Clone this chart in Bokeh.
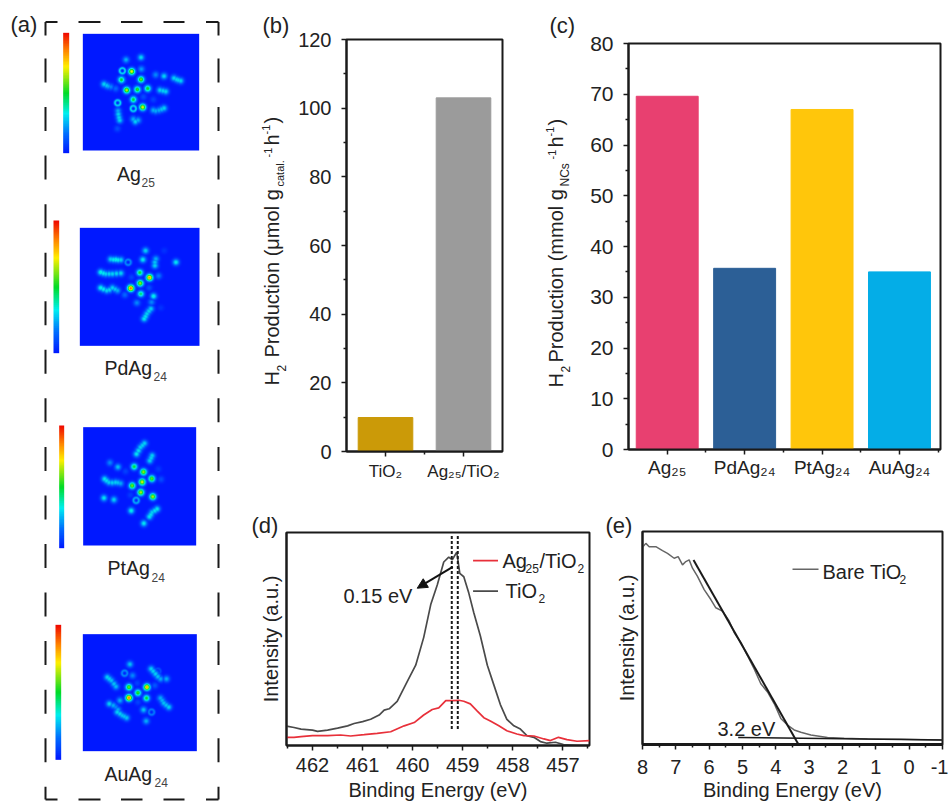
import math
import numpy as np
from bokeh.plotting import figure
from bokeh.layouts import row, column
from bokeh.models import Range1d, FixedTicker, Label, Arrow, NormalHead, LinearColorMapper
from bokeh.embed import file_html
from bokeh.resources import INLINE

FONT = "Liberation Sans"
INK = "#222222"

# ---------- data ----------
b_cats = ["TiO₂", "Ag₂₅/TiO₂"]
b_vals = [9.9, 103.0]
b_cols = ["#CB9A08", "#9B9B9B"]

c_cats = ["Ag₂₅", "PdAg₂₄", "PtAg₂₄", "AuAg₂₄"]
c_vals = [69.6, 35.7, 67.0, 35.0]
c_cols = ["#E84070", "#2C5F96", "#FFC60B", "#04ADE7"]

d_tio2_x = [462.52,462.37,462.23,462.00,461.90,461.70,461.50,461.30,461.17,461.00,460.84,460.67,460.57,460.47,460.31,460.11,459.94,459.78,459.64,459.51,459.38,459.28,459.21,459.12,459.06,458.98,458.88,458.78,458.65,458.51,458.38,458.25,458.12,457.98,457.85,457.72,457.58,457.45,457.32,457.15,456.99,456.72,456.47]
d_tio2_y = [59,55,50,47,43,47,53,60,67,73,80,93,108,112,135,195,245,330,430,490,560,575,567,590,525,515,465,405,335,245,185,125,80,60,50,30,25,12,7,10,3,0,0]
d_ag_x = [462.52,462.37,462.23,462.00,461.70,461.44,461.24,460.97,460.71,460.44,460.17,459.97,459.78,459.61,459.48,459.34,459.21,459.08,458.98,458.85,458.71,458.58,458.45,458.28,458.12,457.92,457.78,457.58,457.38,457.25,457.09,456.92,456.72,456.47]
d_ag_y = [25,25,27,30,30,32,29,33,37,42,60,70,93,110,115,137,137,138,135,127,105,85,75,60,45,35,30,29,20,15,25,18,13,15]
d_marks = [459.22, 459.10]

e_x = [8.00,7.90,7.80,7.60,7.40,7.25,7.05,6.93,6.80,6.70,6.60,6.50,6.35,6.15,5.95,5.80,5.60,5.40,5.25,5.05,4.85,4.65,4.45,4.25,4.05,3.85,3.65,3.45,3.25,2.95,2.45,1.95,1.25,0.25,-1.00]
e_y = [597,609,599,599,587,579,564,569,544,554,559,534,509,469,439,414,404,374,339,309,269,229,184,159,124,79,59,44,37,29,21,19,17,16,14]
e_fit_x = [6.47, 3.32]
e_fit_y = [559, 0]
e_base_x = [5.13, -1.00]
e_base_y = [21, 14]

# heat map spots: (x, y, level) on each panel's own grid
ag25_spots = [(393,212,.72),(362,237,.5),(421,236,.6),(378,268,.68),(410,266,.55),(441,263,.52),(398,296,.5),(426,319,.72),(376,177,.25),(421,170,.3),(422,205,.22),(465,222,.2),(490,226,.3),(520,232,.3),(528,236,.3),(533,238,.3),(540,240,.3),(310,250,.3),(318,254,.28),(322,256,.25),(330,258,.2),(345,263,.15),(478,268,.3),(487,270,.3),(495,272,.3),(352,330,.25),(353,340,.3),(355,350,.3),(357,358,.3),(404,362,.3),(398,355,.25),(412,358,.25),(458,328,.25),(465,330,.25),(475,328,.25),(483,325,.28),(490,322,.3),(350,383,.1),(428,288,.1),(458,296,.08)]
ag25_rings = [(365,210,.3),(351,306,.3),(398,323,.3)]
pd_spots = [(434,750,.3),(426,777,.33),(345,777,.35),(330,776,.3),(338,777,.33),(352,778,.33),(360,778,.3),(465,775,.25),(462,785,.28),(462,795,.3),(525,785,.33),(490,750,.05),(417,816,.5),(446,831,.85),(418,848,.65),(390,863,.9),(420,880,.45),(458,887,.35),(473,826,.18),(392,830,.08),(408,907,.2),(372,883,.15),(445,862,.1),(300,815,.35),(308,818,.33),(315,820,.3),(325,820,.3),(335,820,.3),(347,819,.3),(360,818,.3),(300,862,.35),(308,866,.33),(318,870,.3),(326,868,.3),(335,862,.3),(343,866,.28),(350,870,.25),(450,925,.3),(444,932,.3),(438,940,.3),(434,948,.32),(430,955,.33),(452,905,.2),(480,922,.05)]
pd_rings = [(382,785,.2)]
pt_spots = [(432,128,.3),(426,134,.3),(420,140,.3),(414,150,.32),(408,160,.33),(455,165,.3),(452,172,.3),(448,180,.3),(328,186,.2),(352,199,.28),(401,198,.5),(429,214,.65),(454,234,.6),(425,244,.72),(395,255,.62),(421,275,.68),(457,288,.68),(474,205,.06),(482,236,.1),(375,212,.08),(312,235,.33),(318,240,.32),(325,245,.3),(335,246,.3),(345,245,.3),(352,246,.28),(360,248,.25),(310,292,.33),(340,297,.3),(392,330,.35),(470,325,.33),(463,330,.32),(455,335,.3),(451,342,.32),(447,348,.33),(430,368,.33),(390,283,.07)]
pt_rings = [(407,299,.25)]
au_spots = [(388,791,.28),(396,825,.2),(452,805,.3),(458,812,.3),(465,820,.3),(472,828,.28),(480,835,.25),(498,835,.25),(320,830,.3),(326,835,.3),(332,840,.28),(340,850,.28),(346,858,.27),(385,860,.6),(439,860,.82),(412,877,.55),(385,892,.88),(438,893,.5),(463,855,.12),(410,848,.08),(412,905,.08),(326,910,.3),(338,915,.25),(345,920,.2),(350,935,.3),(352,928,.25),(358,940,.3),(365,945,.28),(371,948,.28),(378,952,.28),(358,900,.25),(480,893,.25),(485,900,.26),(490,908,.28),(497,914,.28),(505,920,.3),(429,928,.28),(437,962,.25)]
au_rings = [(372,818,.2),(472,812,.1),(453,935,.18)]

# panel extents on that grid, colour bar extents and the page offset of the grid
panels = [
    dict(name="Ag", sub="25", box=(247,596,100,450), bar=(188,206,97,458), off=0,   spots=ag25_spots, rings=ag25_rings, tx=116.5, ty=173, sx=141, sy=182),
    dict(name="PdAg", sub="24", box=(238,597,682,1036), bar=(159,176,660,1058), off=0, spots=pd_spots, rings=pd_rings, tx=104, ty=367, sx=153, sy=376),
    dict(name="PtAg", sub="24", box=(248,587,80,435), bar=(176,191,75,443), off=400, spots=pt_spots, rings=pt_rings, tx=107, ty=567, sx=151, sy=577),
    dict(name="AuAg", sub="24", box=(247,589,701,1052), bar=(165,182,673,1078), off=400, spots=au_spots, rings=au_rings, tx=104, ty=773, sx=154, sy=782),
]

# ---------- palette ----------
stops = [(0,(0,24,255)),(.16,(0,110,255)),(.33,(0,240,240)),(.5,(0,220,40)),(.72,(255,240,0)),(.86,(255,130,0)),(1,(240,10,0))]
def col(t):
    for (a,ca),(b,cb) in zip(stops, stops[1:]):
        if t <= b:
            f = (t-a)/(b-a)
            return "#%02x%02x%02x" % tuple(int(ca[i]+(cb[i]-ca[i])*f) for i in range(3))
    return "#f00a00"
PAL = [col(i/255) for i in range(256)]
MAPPER = LinearColorMapper(palette=PAL, low=0, high=1)

H = 803
W = 948
AW = 248

def bare(w, h, **kw):
    p = figure(width=w, height=h, x_range=Range1d(0,w), y_range=Range1d(0,h),
               output_backend="svg", toolbar_location=None, frame_align=False,
               min_border=0, min_border_left=0, min_border_right=0, min_border_top=0, min_border_bottom=0, **kw)
    p.axis.visible = False
    p.grid.visible = False
    p.outline_line_color = None
    return p

# full-page transparent sheet that carries every text lying outside a plot frame
ov = bare(W, H, margin=(-H,0,0,0), background_fill_color=None, border_fill_color=None)

def place(x, y, text, size=20, angle=0, color=INK):
    ov.add_layout(Label(x=x, y=H-y, text=text, text_font=FONT, text_font_size=f"{size}px", text_color=color,
                        text_align="left", text_baseline="middle", angle=angle))

# ---------- panel (a) ----------
fa = bare(AW, H)
for P in panels:
    x0,x1,y0,y1 = P["box"]
    nx, ny = int(x1-x0), int(y1-y0)
    xs = np.linspace(x0,x1,nx); ys = np.linspace(y0,y1,ny)
    X,Y = np.meshgrid(xs,ys)
    Z = np.zeros_like(X)
    for sx,sy,a in P["spots"]:
        Z = np.maximum(Z, a*np.exp(-((X-sx)**2+(Y-sy)**2)/(2*7.0**2)))
    for sx,sy,a in P["rings"]:
        D = np.hypot(X-sx,Y-sy)
        Z = np.maximum(Z, a*np.exp(-(D-8)**2/(2*3.0**2)))
    off = P["off"]
    fa.image(image=[Z], x=x0/3, y=H-(y0/3+off), dw=(x1-x0)/3, dh=(y1-y0)/3, color_mapper=MAPPER,
             origin="top_left", anchor="top_left")
    a0,a1,b0,b1 = P["bar"]
    G = np.linspace(1,0,200).reshape(-1,1)
    fa.image(image=[G], x=a0/3, y=H-(b0/3+off), dw=(a1-a0)/3, dh=(b1-b0)/3, color_mapper=MAPPER,
             origin="top_left", anchor="top_left")
    place(P["tx"], P["ty"], P["name"], 19.5)
    place(P["sx"], P["sy"], P["sub"], 12, color="#444444")

L, R, T, B = 45, 218, 21.5, 799
def hd(y):
    for s_,e_ in [(L,57),(78,100),(120.5,142),(163,184),(205.5,R)]:
        fa.line([s_,e_],[H-y,H-y],line_color="#1a1a1a",line_width=2)
def vd(x):
    s_ = 58
    fa.line([x,x],[H-T,H-35],line_color="#1a1a1a",line_width=2)
    while s_ < B:
        fa.line([x,x],[H-s_,H-min(s_+24,B)],line_color="#1a1a1a",line_width=2)
        s_ += 48.55
hd(T); hd(B); vd(L); vd(R)
place(10, 24, "(a)", 22)

# ---------- shared styling ----------
def fig(w, h, xr, yr, left, right, top, bottom):
    p = figure(width=w, height=h, x_range=xr, y_range=yr, output_backend="svg", toolbar_location=None,
               frame_align=False,
               min_border_left=left, min_border_right=right, min_border_top=top, min_border_bottom=bottom)
    p.grid.visible = False
    p.outline_line_color = "#1a1a1a"
    p.outline_line_width = 2
    for ax in (p.xaxis[0], p.yaxis[0]):
        ax.axis_line_color = "#1a1a1a"
        ax.axis_line_width = 2
        ax.major_tick_line_color = "#1a1a1a"
        ax.minor_tick_line_color = "#1a1a1a"
        ax.major_tick_line_width = 1.5
        ax.minor_tick_line_width = 1.5
        ax.major_tick_out = 5; ax.major_tick_in = 0
        ax.minor_tick_out = 3; ax.minor_tick_in = 0
        ax.major_label_text_font = FONT
        ax.major_label_text_color = INK
        ax.axis_label_text_font = FONT
        ax.axis_label_text_color = INK
        ax.axis_label_text_font_style = "normal"
    return p

UP = math.pi/2
# ---------- panel (b) ----------
fb = fig(545-AW, 505, Range1d(0,2), Range1d(0,120), 346-AW, 43, 39, 54)
fb.vbar(x=[.5,1.5], top=b_vals, width=.7, bottom=0, color=b_cols)
fb.xaxis.ticker = FixedTicker(ticks=[.5,1.5], minor_ticks=[1.0])
fb.xaxis.major_label_overrides = {.5:b_cats[0], 1.5:b_cats[1]}
fb.xaxis.major_label_text_font_size = "17px"
fb.xaxis.major_label_standoff = 5
fb.yaxis.ticker = FixedTicker(ticks=list(range(0,121,20)), minor_ticks=list(range(10,120,20)))
fb.yaxis.major_label_text_font_size = "20px"
fb.yaxis.major_label_standoff = 10
for x,y,t,z in [(271,385,"H",20),(281,371,"2",12),(271,357,"Production (μmol g",20),(279,186,"catal.",11),
                (267,157,"-1",11),(271,145,"h",20),(265,134,"-1",11),(271,123,")",20)]:
    place(x, y, t, z, UP)
place(262, 25, "(b)", 22)

# ---------- panel (c) ----------
fc = fig(403, 505, Range1d(0,4.03), Range1d(0,80), 83, 8, 43, 56)
fc.vbar(x=[.5,1.5,2.5,3.5], top=c_vals, width=.8, bottom=0, color=c_cols)
fc.xaxis.ticker = FixedTicker(ticks=[.5,1.5,2.5,3.5], minor_ticks=[1.0,2.0,3.0,4.0])
fc.xaxis.major_label_overrides = {.5:c_cats[0],1.5:c_cats[1],2.5:c_cats[2],3.5:c_cats[3]}
fc.xaxis.major_label_text_font_size = "19px"
fc.xaxis.major_label_standoff = 2
fc.yaxis.ticker = FixedTicker(ticks=list(range(0,81,10)), minor_ticks=list(range(5,80,10)))
fc.yaxis.major_label_text_font_size = "21px"
fc.yaxis.major_label_standoff = 10
for x,y,t,z in [(555,387,"H",20),(565,372,"2",12),(555,362,"Production (mmol g",20),(564,186,"NCs",12),
                (551,159,"-1",11),(555,147,"h",20),(549,136,"-1",11),(555,125,")",20)]:
    place(x, y, t, z, UP)
place(549, 25, "(c)", 22)

# ---------- panel (d) ----------
fd = fig(600-AW, 298, Range1d(462.52,456.47), Range1d(0,650), 286-AW, 11, 27, 55)
fd.line(d_tio2_x, d_tio2_y, line_color="#4a4a4a", line_width=1.7)
fd.line(d_ag_x, d_ag_y, line_color="#E8303A", line_width=1.7)
for m in d_marks:
    fd.line([m,m],[50,640],line_color="#1a1a1a",line_width=2,line_dash="3 2")
fd.add_layout(Arrow(end=NormalHead(size=10, fill_color="#111111", line_color="#111111"),
                    x_start=459.20, y_start=545, x_end=459.91, y_end=480, line_color="#111111", line_width=2))
fd.xaxis.ticker = FixedTicker(ticks=[462,461,460,459,458,457], minor_ticks=[462.5,461.5,460.5,459.5,458.5,457.5,456.5])
fd.xaxis.major_label_text_font_size = "20px"
fd.xaxis.major_label_standoff = 7
fd.xaxis.axis_label = "Binding Energy (eV)"
fd.xaxis.axis_label_text_font_size = "20px"
fd.xaxis.axis_label_standoff = 4
fd.yaxis.ticker = FixedTicker(ticks=[])
fd.yaxis.axis_label = "Intensity (a.u.)"
fd.yaxis.axis_label_text_font_size = "20px"
fd.yaxis.axis_label_standoff = 5
def dx(px): return 462.52-(px-286)/50.2
def dy(py): return (748-py)*3
fd.line([dx(473),dx(498)],[dy(560),dy(560)],line_color="#E8303A",line_width=1.7)
fd.line([dx(473),dx(498)],[dy(591),dy(591)],line_color="#4a4a4a",line_width=1.7)
for x,y,t,z in [(502,560,"Ag",20),(525,568,"25",12),(539,560,"/TiO",20),(577,568,"2",12),
                (505,590,"TiO",20),(538,598,"2",12),(343,595,"0.15 eV",20),(251,525,"(d)",22)]:
    place(x, y, t, z)

# ---------- panel (e) ----------
fe = fig(348, 298, Range1d(8,-1), Range1d(0,645), 42, 6, 26, 57)
fe.line(e_x, e_y, line_color="#666666", line_width=1.5)
fe.line(e_fit_x, e_fit_y, line_color="#1a1a1a", line_width=2)
fe.line(e_base_x, e_base_y, line_color="#1a1a1a", line_width=1.5)
fe.xaxis.ticker = FixedTicker(ticks=list(range(-1,9)), minor_ticks=[i+.5 for i in range(-1,8)])
fe.xaxis.axis_line_width = 3
fe.xaxis.major_label_overrides = {-1:"-1"}
fe.xaxis.major_label_text_font_size = "20px"
fe.xaxis.major_label_standoff = 10
fe.xaxis.axis_label = "Binding Energy (eV)"
fe.xaxis.axis_label_text_font_size = "20px"
fe.xaxis.axis_label_standoff = 2
fe.yaxis.ticker = FixedTicker(ticks=[])
fe.yaxis.axis_label = "Intensity (a.u.)"
fe.yaxis.axis_label_text_font_size = "20px"
fe.yaxis.axis_label_standoff = 5
def ex(px): return 8-(px-642)/33.33
def ey(py): return (746-py)*3
fe.line([ex(792),ex(818)],[ey(569),ey(569)],line_color="#666666",line_width=1.5)
for x,y,t,z in [(822,571,"Bare TiO",20),(899,579,"2",12),(717,728,"3.2 eV",20),(605,525,"(e)",22)]:
    place(x, y, t, z)

root = column(row(fa, column(row(fb,fc), row(fd,fe))), ov)
open("out.html","w").write(file_html(root, INLINE))
